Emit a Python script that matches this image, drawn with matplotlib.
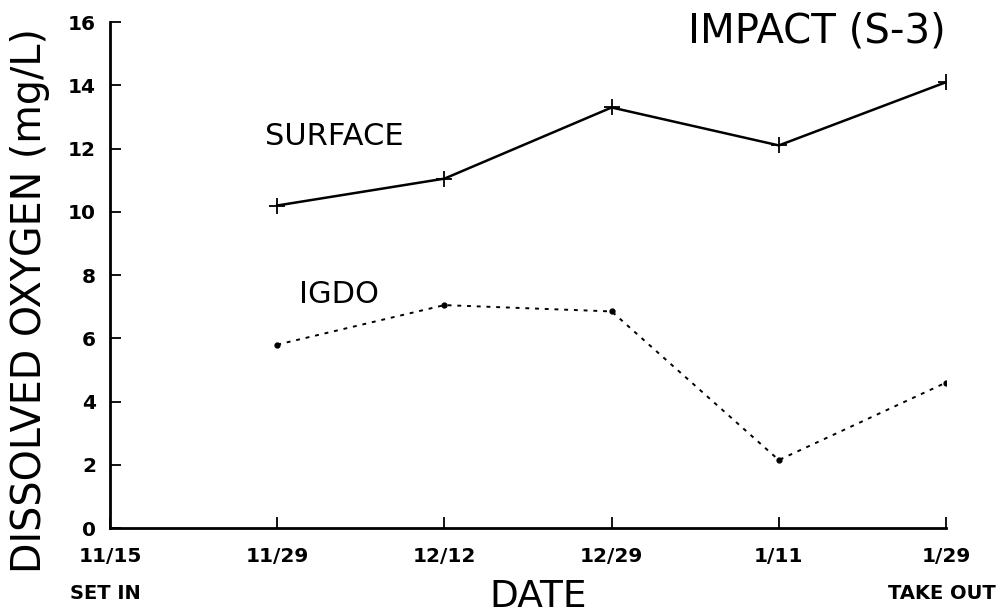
import matplotlib
matplotlib.use('Agg')
import matplotlib.pyplot as plt

dates = ['11/15', '11/29', '12/12', '12/29', '1/11', '1/29']
sample_dates = ['11/29', '12/12', '12/29', '1/11', '1/29']
surface = [10.2, 11.05, 13.3, 12.1, 14.1]
igdo = [5.8, 7.05, 6.85, 2.15, 4.6]
yticks = [0, 2, 4, 6, 8, 10, 12, 14, 16]

plt.rcParams['font.family'] = ['DejaVu Sans']

fig = plt.figure(figsize=(10.03, 6.14), dpi=100)
ax = fig.add_axes([0.1097, 0.140, 0.8335, 0.824])

xpos = [dates.index(d) for d in sample_dates]
ax.plot(xpos, surface, color='black', lw=1.8, marker='+', ms=11, mew=1.3)
ax.plot(xpos, igdo, color='black', lw=1.4, ls=(0, (2, 3)), marker='o', ms=3.5)

ax.set_xlim(0, len(dates) - 1)
ax.set_ylim(0, 16)
ax.set_xticks(range(len(dates)))
ax.set_xticklabels(dates, fontsize=14.5, fontweight='bold')
ax.set_yticks(yticks)
ax.set_yticklabels([str(v) for v in yticks], fontsize=14.5, fontweight='bold')
ax.tick_params(direction='in', length=8, width=1.3)
ax.tick_params(axis='x', pad=14)
ax.tick_params(axis='y', pad=10)

for s in ['top', 'right']:
    ax.spines[s].set_visible(False)
for s in ['left', 'bottom']:
    ax.spines[s].set_linewidth(2.0)

ax.set_ylabel('DISSOLVED OXYGEN (mg/L)', fontsize=28.5)
ax.yaxis.set_label_coords(-0.072, 0.45)
fig.text(0.537, 0.027, 'DATE', fontsize=27, ha='center', va='center')
fig.text(0.07, 0.034, 'SET IN', fontsize=14, fontweight='bold', va='center')
fig.text(0.993, 0.034, 'TAKE OUT', fontsize=14, fontweight='bold', va='center', ha='right')

ax.text(0.943, 0.948, 'IMPACT (S-3)', transform=fig.transFigure, fontsize=29,
        ha='right', va='center')
ax.text(0.264, 0.777, 'SURFACE', transform=fig.transFigure, fontsize=22, va='center')
ax.text(0.298, 0.52, 'IGDO', transform=fig.transFigure, fontsize=22, va='center')

plt.savefig('out.png', dpi=100)
